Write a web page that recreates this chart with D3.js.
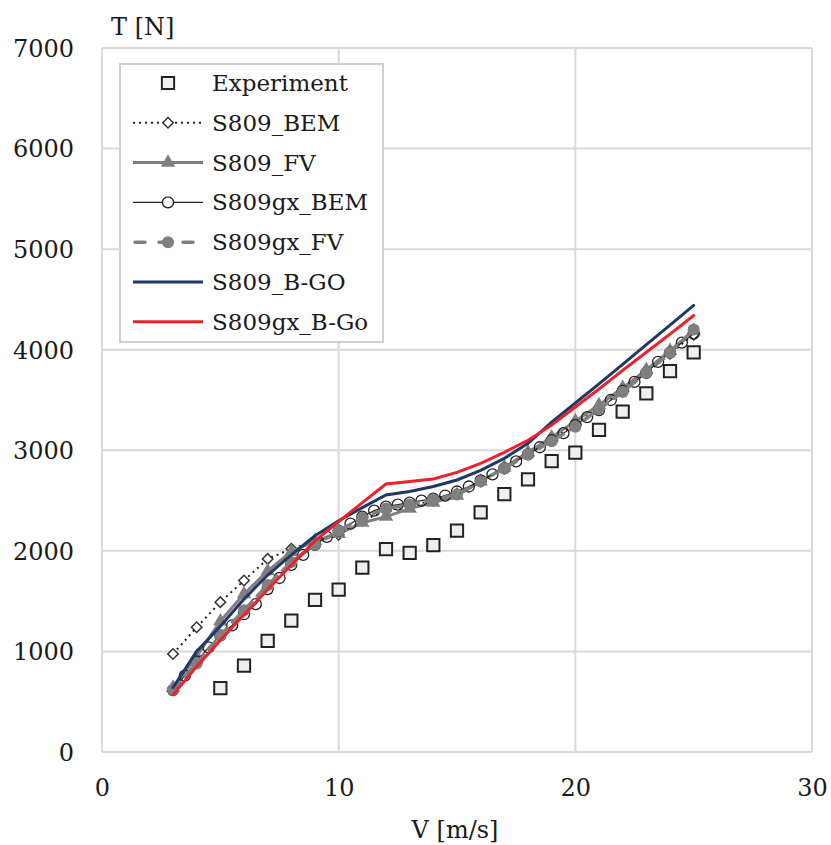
<!DOCTYPE html>
<html>
<head>
<meta charset="utf-8">
<script src="https://cdn.jsdelivr.net/npm/d3@7"></script>
<style>
  html, body { margin: 0; padding: 0; background: #fff; }
  svg { display: block; }
  text { font-family: "DejaVu Serif", "Liberation Serif", serif; fill: #1a1a1a; }
</style>
</head>
<body>
<svg id="board" width="831" height="845"></svg>
<script>
// velocities
const vExp = d3.range(5, 26);
const vInt = d3.range(3, 26);
const vHalf = d3.range(3, 25.01, 0.5);

// thrust values [N]
const expT = [636, 858, 1104, 1306, 1513, 1615, 1833, 2016, 1980, 2058, 2201, 2383, 2565, 2711, 2893, 2976, 3202, 3384, 3567, 3788, 3974];
const bemT = [975, 1240, 1490, 1705, 1920, 2020, 2090, 2160, 2300, 2400, 2450, 2500, 2570, 2690, 2820, 2960, 3110, 3260, 3420, 3590, 3770, 3960, 4150];
const fvT = [640, 950, 1300, 1570, 1800, 1990, 2100, 2170, 2280, 2340, 2420, 2480, 2550, 2690, 2830, 2980, 3130, 3290, 3450, 3620, 3800, 3990, 4190];
const gxBemT = [616, 760, 900, 1040, 1160, 1260, 1370, 1470, 1620, 1730, 1860, 1960, 2060, 2140, 2200, 2270, 2340, 2400, 2440, 2460, 2480, 2500, 2520, 2550, 2590, 2640, 2700, 2760, 2820, 2890, 2960, 3030, 3100, 3170, 3250, 3330, 3400, 3500, 3590, 3680, 3770, 3880, 3970, 4070, 4160];
const gxFvT = [620, 880, 1160, 1410, 1660, 1890, 2060, 2200, 2330, 2420, 2460, 2510, 2560, 2690, 2820, 2960, 3090, 3235, 3410, 3580, 3770, 3970, 4200];
const bgoT = [640, 1000, 1250, 1520, 1760, 1960, 2150, 2300, 2430, 2555, 2590, 2640, 2705, 2800, 2920, 3070, 3280, 3470, 3660, 3855, 4050, 4245, 4440];
const gxBgoT = [570, 850, 1110, 1365, 1615, 1860, 2100, 2290, 2480, 2665, 2690, 2715, 2780, 2870, 2980, 3100, 3250, 3430, 3610, 3795, 3975, 4155, 4340];

const xTicks = [0, 10, 20, 30];
const yTicks = [0, 1000, 2000, 3000, 4000, 5000, 6000, 7000];
const legendNames = ["Experiment", "S809_BEM", "S809_FV", "S809gx_BEM", "S809gx_FV", "S809_B-GO", "S809gx_B-Go"];

const board = d3.select("#board");
const x = d3.scaleLinear().domain([0, 30]).range([102, 812]);
const y = d3.scaleLinear().domain([0, 7000]).range([752, 48]);

const NAVY = "#203864", RED = "#f0202a", GRAY = "#7f7f7f";

// grid
const grid = board.append("g");
grid.selectAll("line.h").data(yTicks).join("line")
    .attr("x1", x(0)).attr("x2", x(30))
    .attr("y1", d => y(d)).attr("y2", d => y(d))
    .attr("stroke", "#d9d9d9").attr("stroke-width", 2);
grid.selectAll("line.v").data(xTicks).join("line")
    .attr("y1", y(0)).attr("y2", y(7000))
    .attr("x1", d => x(d)).attr("x2", d => x(d))
    .attr("stroke", "#d9d9d9").attr("stroke-width", 2);

// axes
const xAxis = board.append("g")
    .attr("transform", `translate(0,${y(0) + 36})`)
    .call(d3.axisBottom(x).tickValues(xTicks).tickSize(0).tickPadding(0));
const yAxis = board.append("g")
    .attr("transform", `translate(${x(0) - 28},0)`)
    .call(d3.axisLeft(y).tickValues(yTicks).tickSize(0).tickPadding(0).tickFormat(d3.format("d")));
[xAxis, yAxis].forEach(a => {
    a.select(".domain").remove();
    a.selectAll("text").attr("font-family", '"DejaVu Serif", serif').attr("font-size", 24).attr("fill", "#1a1a1a");
});
yAxis.selectAll("text").attr("dy", "0.35em");
xAxis.selectAll("text").attr("dy", "0.35em");

board.append("text").attr("x", 111).attr("y", 35).attr("font-size", 24).text("T [N]");
board.append("text").attr("x", 455).attr("y", 838).attr("text-anchor", "middle").attr("font-size", 24).text("V [m/s]");

const line = d3.line().x(d => x(d[0])).y(d => y(d[1]));
const pairs = (vs, ts) => vs.map((v, i) => [v, ts[i]]);

const sqr = d3.symbol().type(d3.symbolSquare).size(150);
const dia = d3.symbol().type(d3.symbolSquare).size(55);
const tri = d3.symbol().type(d3.symbolTriangle).size(90);
const diaAt = d => `translate(${x(d[0])},${y(d[1])}) rotate(45)`;

const plot = board.append("g");

// Experiment squares
plot.selectAll("path.exp").data(pairs(vExp, expT)).join("path")
    .attr("d", sqr).attr("transform", d => `translate(${x(d[0])},${y(d[1])})`)
    .attr("fill", "#eef0ee").attr("stroke", "#222").attr("stroke-width", 2);

// S809_BEM dotted + diamonds
plot.append("path").datum(pairs(vInt, bemT)).attr("d", line)
    .attr("fill", "none").attr("stroke", "#222").attr("stroke-width", 2).attr("stroke-dasharray", "2,4");
plot.selectAll("path.bem").data(pairs(vInt, bemT)).join("path")
    .attr("d", dia).attr("transform", diaAt)
    .attr("fill", "#fff").attr("stroke", "#333").attr("stroke-width", 1.5);

// S809_FV gray + triangles
plot.append("path").datum(pairs(vInt, fvT)).attr("d", line)
    .attr("fill", "none").attr("stroke", GRAY).attr("stroke-width", 3);
plot.selectAll("path.fv").data(pairs(vInt, fvT)).join("path")
    .attr("d", tri).attr("transform", d => `translate(${x(d[0])},${y(d[1])})`)
    .attr("fill", GRAY);

// S809gx_BEM thin black + open circles
plot.append("path").datum(pairs(vHalf, gxBemT)).attr("d", line)
    .attr("fill", "none").attr("stroke", "#222").attr("stroke-width", 1.2);
plot.selectAll("circle.gxbem").data(pairs(vHalf, gxBemT)).join("circle")
    .attr("cx", d => x(d[0])).attr("cy", d => y(d[1])).attr("r", 5.5)
    .attr("fill", "none").attr("stroke", "#222").attr("stroke-width", 1.3);

// S809gx_FV gray dashed + filled circles
plot.append("path").datum(pairs(vInt, gxFvT)).attr("d", line)
    .attr("fill", "none").attr("stroke", GRAY).attr("stroke-width", 3.5)
    .attr("stroke-dasharray", "10,8").attr("stroke-linecap", "round");
plot.selectAll("circle.gxfv").data(pairs(vInt, gxFvT)).join("circle")
    .attr("cx", d => x(d[0])).attr("cy", d => y(d[1])).attr("r", 6)
    .attr("fill", GRAY);

// B-GO lines
plot.append("path").datum(pairs(vInt, bgoT)).attr("d", line)
    .attr("fill", "none").attr("stroke", NAVY).attr("stroke-width", 3).attr("stroke-linecap", "round");
plot.append("path").datum(pairs(vInt, gxBgoT)).attr("d", line)
    .attr("fill", "none").attr("stroke", RED).attr("stroke-width", 3).attr("stroke-linecap", "round");

// legend
const lg = board.append("g");
lg.append("rect").attr("x", 120).attr("y", 64).attr("width", 263).attr("height", 278)
    .attr("fill", "#fff").attr("stroke", "#d0d0d0").attr("stroke-width", 2);
const rowY = i => 83 + i * 39.8;
const lx1 = 133, lx2 = 203, lm = 168;
legendNames.forEach((name, i) => {
    lg.append("text").attr("x", 212).attr("y", rowY(i)).attr("dy", "0.35em")
        .attr("font-size", 23).text(name);
});
lg.append("path").attr("d", sqr).attr("transform", `translate(${lm},${rowY(0)})`)
    .attr("fill", "#eef0ee").attr("stroke", "#222").attr("stroke-width", 2);
lg.append("line").attr("x1", lx1).attr("x2", lx2).attr("y1", rowY(1)).attr("y2", rowY(1))
    .attr("stroke", "#222").attr("stroke-width", 2).attr("stroke-dasharray", "2,4");
lg.append("path").attr("d", dia).attr("transform", `translate(${lm},${rowY(1)}) rotate(45)`)
    .attr("fill", "#fff").attr("stroke", "#333").attr("stroke-width", 1.5);
lg.append("line").attr("x1", lx1).attr("x2", lx2).attr("y1", rowY(2)).attr("y2", rowY(2))
    .attr("stroke", GRAY).attr("stroke-width", 3);
lg.append("path").attr("d", tri).attr("transform", `translate(${lm},${rowY(2)})`).attr("fill", GRAY);
lg.append("line").attr("x1", lx1).attr("x2", lx2).attr("y1", rowY(3)).attr("y2", rowY(3))
    .attr("stroke", "#222").attr("stroke-width", 1.2);
lg.append("circle").attr("cx", lm).attr("cy", rowY(3)).attr("r", 5.5)
    .attr("fill", "#fff").attr("stroke", "#222").attr("stroke-width", 1.3);
lg.append("line").attr("x1", lx1 + 2).attr("x2", lx2).attr("y1", rowY(4)).attr("y2", rowY(4))
    .attr("stroke", GRAY).attr("stroke-width", 3.5).attr("stroke-dasharray", "10,14").attr("stroke-linecap", "round");
lg.append("circle").attr("cx", lm).attr("cy", rowY(4)).attr("r", 6).attr("fill", GRAY);
lg.append("line").attr("x1", lx1).attr("x2", lx2).attr("y1", rowY(5)).attr("y2", rowY(5))
    .attr("stroke", NAVY).attr("stroke-width", 3);
lg.append("line").attr("x1", lx1).attr("x2", lx2).attr("y1", rowY(6)).attr("y2", rowY(6))
    .attr("stroke", RED).attr("stroke-width", 3);
</script>
</body>
</html>
